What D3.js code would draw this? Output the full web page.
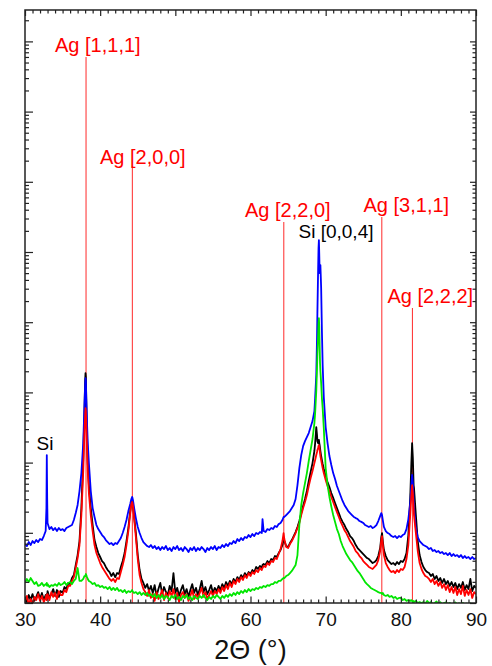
<!DOCTYPE html>
<html>
<head>
<meta charset="utf-8">
<script src="https://cdn.jsdelivr.net/npm/d3@7"></script>
<style>
  html, body { margin: 0; padding: 0; background: #fff; }
  svg { display: block; font-family: "Liberation Sans", Arial, sans-serif; }
</style>
</head>
<body>
<svg id="chart" width="492" height="666"></svg>
<script>
// Scattering angle 2θ (degrees), shared by all four scans
const twoTheta = [
  30, 30.25, 30.5, 30.75,
  31, 31.25, 31.5, 31.75,
  32, 32.25, 32.5, 32.75, 32.85, 32.9, 32.95,
  33, 33.25, 33.5, 33.75,
  34, 34.25, 34.5, 34.75,
  35, 35.25, 35.5, 35.75,
  36, 36.25, 36.5, 36.75,
  37, 37.25, 37.5, 37.75, 37.9,
  38, 38.05, 38.1, 38.15, 38.25, 38.35, 38.5, 38.75,
  39, 39.25, 39.5, 39.75,
  40, 40.25, 40.5, 40.75,
  41, 41.25, 41.5, 41.75,
  42, 42.25, 42.5, 42.75,
  43, 43.25, 43.5, 43.75,
  44, 44.15, 44.25, 44.3, 44.4, 44.5, 44.75,
  45, 45.25, 45.5, 45.75,
  46, 46.25, 46.5, 46.75,
  47, 47.25, 47.5, 47.75,
  48, 48.25, 48.5, 48.75,
  49, 49.25, 49.5, 49.75,
  50, 50.25, 50.5, 50.75,
  51, 51.25, 51.5, 51.75,
  52, 52.25, 52.5, 52.75,
  53, 53.25, 53.5, 53.75,
  54, 54.25, 54.5, 54.75,
  55, 55.25, 55.5, 55.75,
  56, 56.25, 56.5, 56.75,
  57, 57.25, 57.5, 57.75,
  58, 58.25, 58.5, 58.75,
  59, 59.25, 59.5, 59.75,
  60, 60.25, 60.5, 60.75,
  61, 61.25, 61.5, 61.6, 61.75,
  62, 62.25, 62.5, 62.75,
  63, 63.25, 63.5, 63.75,
  64, 64.25, 64.4, 64.5, 64.75,
  65, 65.25, 65.5, 65.75,
  66, 66.25, 66.5, 66.75,
  67, 67.25, 67.5, 67.75,
  68, 68.25, 68.5, 68.6, 68.75, 68.85, 68.9,
  69, 69.05, 69.1, 69.15, 69.2, 69.25, 69.3, 69.4, 69.5, 69.6, 69.75,
  70, 70.25, 70.5, 70.75,
  71, 71.25, 71.5, 71.75,
  72, 72.25, 72.5, 72.75,
  73, 73.25, 73.5, 73.75,
  74, 74.25, 74.5, 74.75,
  75, 75.25, 75.5, 75.75,
  76, 76.25, 76.5, 76.75,
  77, 77.25, 77.4, 77.5, 77.6, 77.75,
  78, 78.25, 78.5, 78.75,
  79, 79.25, 79.5, 79.75,
  80, 80.25, 80.5, 80.75,
  81, 81.25, 81.4, 81.5, 81.6, 81.7, 81.75,
  82, 82.25, 82.5, 82.75,
  83, 83.25, 83.5, 83.75,
  84, 84.25, 84.5, 84.75,
  85, 85.25, 85.5, 85.75,
  86, 86.25, 86.5, 86.75,
  87, 87.25, 87.5, 87.75,
  88, 88.25, 88.5, 88.75,
  89, 89.25, 89.5, 89.75,
  90
];

// Intensity (counts) of the four scans
const countsBlue = [
  69.2, 64.8, 73.8, 66.9,
  76.3, 71.5, 78.8, 73.8,
  81.5, 78.8, 89.9, 105.9, 225, 1280, 314,
  138, 113, 121, 109,
  117, 106, 117, 109,
  113, 106, 117, 121,
  125, 129, 152, 191,
  249, 393, 709, 1896, 5970,
  12900, 15990, 14600, 8300, 3653, 1896, 984, 393,
  225, 168, 129, 113,
  102.5, 92.9, 87.0, 78.8,
  73.8, 69.2, 71.5, 66.9,
  71.5, 69.2, 76.3, 84.2,
  99.2, 121, 152, 204,
  257, 303, 324, 314, 275, 232, 162,
  121, 99.2, 84.2, 73.8,
  69.2, 64.8, 62.7, 66.9,
  60.7, 64.8, 58.7, 62.7,
  56.8, 62.7, 58.7, 64.8,
  56.8, 60.7, 55.0, 62.7,
  58.7, 64.8, 56.8, 60.7,
  55.0, 62.7, 58.7, 53.2,
  60.7, 56.8, 62.7, 55.0,
  60.7, 56.8, 62.7, 58.7,
  53.2, 60.7, 56.8, 62.7,
  58.7, 64.8, 56.8, 62.7,
  60.7, 66.9, 62.7, 69.2,
  64.8, 71.5, 69.2, 76.3,
  71.5, 81.5, 76.3, 84.2,
  78.8, 87.0, 84.2, 92.9,
  87.0, 96.0, 89.9, 99.2,
  96.0, 102.5, 99.2, 157, 105.9,
  102.5, 113, 109.4, 117,
  113, 125, 121, 133,
  138, 152, 168, 168, 179,
  191, 204, 225, 249,
  303, 479, 835, 1280,
  1720, 2024, 2307, 2632,
  3204, 3900, 5413, 8300, 17630, 59600, 134700,
  590000, 1138000, 1480000, 906000, 501000, 536000, 650000, 306000, 75000, 24600, 8600,
  3204, 1896, 1240, 924,
  709, 584, 464, 394,
  334, 284, 249, 225,
  204, 191, 179, 168,
  162, 157, 147, 143,
  138, 129, 125, 121,
  125, 117, 121, 129,
  147, 173, 191, 179, 152, 121,
  105.9, 99.2, 96.0, 89.9,
  87.0, 89.9, 84.2, 89.9,
  87.0, 92.9, 96.0, 113,
  157, 265, 479, 666, 511, 303, 232,
  117, 87.0, 76.3, 71.5,
  66.9, 64.8, 62.7, 58.7,
  60.7, 55.0, 56.8, 53.2,
  55.0, 51.5, 53.2, 49.8,
  51.5, 48.2, 51.5, 46.7,
  49.8, 46.7, 48.2, 45.2,
  48.2, 43.7, 46.7, 43.7,
  45.2, 42.3, 45.2, 42.3,
  43.7
];

const countsBlack = [
  11.8, 10.3, 13.0, 11.0,
  13.4, 10.7, 12.2, 14.3,
  11.4, 13.9, 11.0, 13.0, 11.8, 13.4, 11.4,
  14.8, 11.8, 13.4, 15.8,
  12.6, 15.3, 12.2, 14.8,
  13.9, 16.9, 15.8, 19.3,
  18.6, 22.7, 25.0, 34.8,
  48.2, 76.3, 225, 1160, 5071,
  14530, 18830, 16570, 8300, 2470, 984, 479, 225,
  129, 78.8, 62.7, 51.5,
  45.2, 39.6, 37.1, 32.6,
  29.5, 27.6, 24.2, 26.7,
  23.4, 26.7, 25.9, 32.6,
  39.6, 51.5, 76.3, 117,
  204, 275, 303, 284, 237, 179, 99.2,
  48.2, 29.5, 22.0, 19.3,
  16.4, 18.6, 14.8, 17.5,
  13.9, 18.0, 12.6, 15.8,
  19.3, 13.4, 16.9, 14.3,
  13.0, 17.5, 14.8, 26.7,
  13.9, 16.4, 12.6, 15.3,
  18.0, 13.4, 15.8, 12.2,
  15.3, 18.6, 13.9, 16.4,
  13.0, 15.8, 20.6, 14.3,
  16.9, 13.4, 15.3, 18.0,
  13.9, 16.4, 14.8, 17.5,
  15.3, 18.6, 16.4, 19.9,
  17.5, 20.6, 18.6, 22.0,
  19.9, 23.4, 21.3, 25.0,
  22.7, 26.7, 24.2, 27.6,
  25.9, 29.5, 27.6, 32.6,
  30.5, 33.7, 31.5, 34.8, 35.9,
  34.8, 39.6, 37.1, 42.3,
  40.9, 46.7, 45.2, 51.5,
  56.8, 66.9, 84.2, 76.3, 64.8,
  62.7, 71.5, 78.8, 89.9,
  102.5, 121, 147, 191,
  241, 303, 394, 547,
  735, 984, 1463, 1896, 3204, 2470, 2024,
  1896, 1966, 2100, 1896, 1776, 1610, 1463, 1240, 1087, 955, 811,
  644, 529, 448, 368,
  314, 265, 225, 191,
  162, 143, 129, 113,
  102.5, 89.9, 84.2, 76.3,
  66.9, 60.7, 56.8, 53.2,
  49.8, 46.7, 43.7, 42.3,
  39.6, 37.1, 38.3, 40.9,
  46.7, 60.7, 87.0, 99.2, 76.3, 56.8,
  46.7, 40.9, 38.3, 35.9,
  37.1, 34.8, 38.3, 35.9,
  39.6, 38.3, 42.3, 51.5,
  92.9, 314, 984, 1896, 1160, 479, 436,
  179, 76.3, 48.2, 38.3,
  32.6, 29.5, 27.6, 26.7,
  24.2, 25.9, 22.0, 24.2,
  20.6, 22.7, 19.3, 22.0,
  18.6, 20.6, 17.5, 19.9,
  16.9, 19.3, 15.8, 18.6,
  16.4, 19.9, 15.3, 18.0,
  15.8, 22.0, 14.8, 17.5,
  16.4
];

const countsRed = [
  10.7, 12.6, 9.4, 11.4,
  9.7, 12.2, 11.0, 13.4,
  10.7, 12.6, 10.3, 11.8, 13.0, 11.0, 12.2,
  13.4, 11.0, 14.3, 12.2,
  13.9, 11.4, 14.8, 13.0,
  13.0, 15.3, 14.3, 17.5,
  17.5, 20.6, 23.4, 31.5,
  43.7, 66.9, 179, 759, 2632,
  4760, 5970, 5413, 3653, 1610, 759, 368, 179,
  105.9, 66.9, 51.5, 43.7,
  37.1, 32.6, 29.5, 26.7,
  24.2, 22.0, 20.6, 22.0,
  19.9, 22.7, 22.0, 27.6,
  34.8, 45.2, 66.9, 105.9,
  191, 257, 275, 265, 225, 168, 87.0,
  42.3, 25.0, 19.3, 15.8,
  14.3, 12.6, 15.3, 11.8,
  13.4, 10.7, 14.3, 11.4,
  13.0, 15.3, 11.0, 13.9,
  11.8, 14.8, 12.6, 15.8,
  11.4, 13.9, 10.3, 13.0,
  14.3, 11.8, 13.4, 10.7,
  12.6, 15.3, 11.4, 13.4,
  11.8, 13.9, 16.4, 12.2,
  14.3, 11.4, 13.0, 14.8,
  12.6, 14.8, 13.4, 15.8,
  13.9, 16.9, 14.8, 18.0,
  15.8, 19.3, 16.9, 20.6,
  18.6, 22.0, 19.9, 23.4,
  21.3, 25.0, 22.7, 26.7,
  24.2, 27.6, 25.9, 29.5,
  27.6, 31.5, 29.5, 31.5, 33.7,
  32.6, 37.1, 34.8, 39.6,
  38.3, 43.7, 42.3, 49.8,
  58.7, 76.3, 99.2, 81.5, 62.7,
  60.7, 69.2, 76.3, 87.0,
  99.2, 117, 138, 179,
  225, 275, 346, 464,
  602, 759, 984, 1087, 1280, 1416, 1512,
  1610, 1723, 1776, 1668, 1512, 1366, 1240, 1087, 955, 835, 709,
  565, 464, 394, 324,
  275, 232, 197, 168,
  143, 125, 109, 99.2,
  87.0, 76.3, 69.2, 62.7,
  55.0, 51.5, 46.7, 43.7,
  39.6, 37.1, 34.8, 32.6,
  31.5, 30.5, 32.6, 34.8,
  40.9, 55.0, 78.8, 89.9, 69.2, 48.2,
  37.1, 32.6, 29.5, 27.6,
  28.6, 26.7, 29.5, 27.6,
  30.5, 29.5, 32.6, 42.3,
  66.9, 179, 346, 479, 368, 232, 179,
  99.2, 55.0, 37.1, 30.5,
  26.7, 24.2, 23.4, 22.0,
  19.9, 22.0, 18.6, 20.6,
  17.5, 19.9, 16.4, 18.6,
  15.3, 18.0, 14.3, 16.9,
  13.9, 16.9, 13.0, 15.8,
  13.4, 17.5, 12.6, 15.3,
  13.0, 15.8, 11.8, 14.3,
  13.4
];

const countsGreen = [
  19.3, 22.0, 19.9, 22.7,
  20.6, 18.6, 19.9, 17.5,
  18.0, 19.3, 17.5, 18.6, 18.0, 19.3, 17.5,
  18.6, 16.9, 18.0, 17.5,
  18.6, 17.5, 19.3, 18.0,
  18.6, 19.9, 18.0, 19.3,
  19.9, 18.6, 20.6, 22.0,
  31.5, 20.6, 20.6, 22.0, 24.2,
  24.2, 25.0, 25.9, 25.0, 23.4, 22.0, 20.6, 19.9,
  18.6, 19.3, 17.5, 18.0,
  16.9, 17.5, 16.4, 16.9,
  15.8, 16.9, 15.3, 16.4,
  15.3, 16.4, 14.8, 15.3,
  14.3, 15.3, 13.9, 14.8,
  14.3, 14.8, 15.3, 14.8, 14.3, 13.9, 14.3,
  13.4, 14.3, 13.0, 13.9,
  13.0, 13.9, 12.6, 13.4,
  12.2, 13.4, 11.8, 13.0,
  11.8, 13.0, 11.4, 12.6,
  12.2, 11.0, 12.6, 11.8,
  13.0, 11.4, 12.2, 11.0,
  12.6, 11.8, 13.0, 11.4,
  12.2, 11.0, 12.6, 11.8,
  11.4, 12.6, 11.8, 13.0,
  11.8, 11.0, 12.2, 11.4,
  12.6, 11.8, 13.0, 12.2,
  11.4, 12.6, 11.8, 13.0,
  12.2, 13.4, 12.6, 13.9,
  13.0, 14.3, 13.4, 14.8,
  13.9, 15.3, 14.3, 15.8,
  14.8, 15.8, 15.3, 16.4,
  15.8, 16.9, 16.4, 16.9, 17.5,
  16.9, 18.0, 17.5, 18.6,
  18.6, 19.9, 19.3, 20.6,
  20.6, 22.0, 22.7, 22.7, 24.2,
  25.0, 26.7, 28.6, 31.5,
  34.8, 48.2, 129, 249,
  368, 511, 709, 1054,
  1512, 2168, 3653, 5071, 10470, 22200, 34100,
  65700, 97000, 114000, 85400, 47300, 26200, 20200, 13560, 8300, 5970, 3100,
  835, 479, 324, 237,
  179, 143, 113, 96.0,
  76.3, 64.8, 56.8, 49.8,
  45.2, 40.9, 38.3, 34.8,
  31.5, 28.6, 26.7, 24.2,
  22.0, 19.9, 18.6, 17.5,
  16.4, 15.8, 15.3, 14.8,
  14.3, 13.9, 13.9, 13.4, 13.9, 13.0,
  12.6, 13.0, 12.2, 12.6,
  11.8, 12.2, 11.4, 11.8,
  11.8, 11.0, 11.4, 10.7,
  11.0, 10.7, 11.0, 10.7, 10.3, 10.7, 10.3,
  10.7, 10.0, 10.3, 10.0,
  10.3, 9.8, 10.7, 10.0,
  10.3, 9.7, 10.0, 10.5,
  9.8, 10.3, 9.6, 10.0,
  10.2, 9.7, 10.0, 9.5,
  9.8, 10.2, 9.5, 9.9,
  9.6, 10.0, 9.4, 9.8,
  9.5, 9.9, 9.3, 9.7,
  9.6
];

// Silver reflections (2θ, degrees) and their Miller-index labels
const agPeaks = [38.12, 44.28, 64.43, 77.47, 81.54];
const agLabels = ["Ag [1,1,1]", "Ag [2,0,0]", "Ag [2,2,0]", "Ag [3,1,1]", "Ag [2,2,2]"];

// Silicon substrate reflections
const siLabels = ["Si", "Si [0,0,4]"];

// Axis ranges
const xDomain = [30, 90];
const xMajorTicks = [30, 40, 50, 60, 70, 80, 90];
const yDomain = [10, 2.8e9];

const svg = d3.select("#chart");
const W = 492, H = 666;
const margin = { left: 25, right: 16, top: 10, bottom: 63 };
const x0 = margin.left, x1 = W - margin.right;
const y0 = H - margin.bottom, y1 = margin.top;

const x = d3.scaleLinear().domain(xDomain).range([x0, x1]);
const y = d3.scaleLog().domain(yDomain).range([y0, y1]);

svg.append("rect").attr("width", W).attr("height", H).attr("fill", "#fff");

svg.append("defs").append("clipPath").attr("id", "plot-clip")
  .append("rect").attr("x", x0).attr("y", y1).attr("width", x1 - x0).attr("height", y0 - y1);

// Reference lines for the silver reflections
const lineTops = [57, 166, 222, 217, 308];
svg.append("g").selectAll("line").data(agPeaks).join("line")
  .attr("x1", d => x(d)).attr("x2", d => x(d))
  .attr("y1", (d, i) => lineTops[i]).attr("y2", y0)
  .attr("stroke", "#ff2a2a").attr("stroke-width", 1);

// Diffraction scans
const scans = [
  { values: countsBlack, color: "#000000" },
  { values: countsBlue, color: "#0000ff" },
  { values: countsRed, color: "#ff0000" },
  { values: countsGreen, color: "#00e600" }
];
const line = d3.line()
  .x((d, i) => x(twoTheta[i]))
  .y(d => y(d));
const curves = svg.append("g").attr("clip-path", "url(#plot-clip)");
scans.forEach(s => {
  curves.append("path")
    .attr("d", line(s.values))
    .attr("fill", "none")
    .attr("stroke", s.color)
    .attr("stroke-width", 1.8)
    .attr("stroke-linejoin", "round");
});

// Axes: ticks point inward on all four sides
const xMinor = d3.range(30, 91, 1).filter(v => v % 10 !== 0);
const yAll = y.ticks();
const yMajor = yAll.filter(v => Math.abs(Math.log10(v) - Math.round(Math.log10(v))) < 1e-9);
const yMinor = yAll.filter(v => !yMajor.includes(v));

function styleAxis(g) {
  g.select(".domain").remove();
  g.selectAll(".tick line").attr("stroke", "#222").attr("stroke-width", 1.2);
}

svg.append("g").attr("transform", `translate(0,${y0})`)
  .call(d3.axisBottom(x).tickValues(xMajorTicks).tickSizeInner(-6.5).tickSizeOuter(0)
    .tickPadding(10).tickFormat(d3.format("d")))
  .call(styleAxis)
  .call(g => g.selectAll("text").attr("font-size", 19).attr("fill", "#111")
    .attr("font-family", "Liberation Sans, Arial, sans-serif"));
svg.append("g").attr("transform", `translate(0,${y0})`)
  .call(d3.axisBottom(x).tickValues(xMinor).tickSizeInner(-3.5).tickSizeOuter(0).tickFormat(""))
  .call(styleAxis);
svg.append("g").attr("transform", `translate(0,${y1})`)
  .call(d3.axisTop(x).tickValues(xMajorTicks).tickSizeInner(-6).tickSizeOuter(0).tickFormat(""))
  .call(styleAxis);
svg.append("g").attr("transform", `translate(0,${y1})`)
  .call(d3.axisTop(x).tickValues(xMinor).tickSizeInner(-3.5).tickSizeOuter(0).tickFormat(""))
  .call(styleAxis);

svg.append("g").attr("transform", `translate(${x0},0)`)
  .call(d3.axisLeft(y).tickValues(yMajor).tickSizeInner(-8).tickSizeOuter(0).tickFormat(""))
  .call(styleAxis);
svg.append("g").attr("transform", `translate(${x0},0)`)
  .call(d3.axisLeft(y).tickValues(yMinor).tickSizeInner(-4).tickSizeOuter(0).tickFormat(""))
  .call(styleAxis);
svg.append("g").attr("transform", `translate(${x1},0)`)
  .call(d3.axisRight(y).tickValues(yMajor).tickSizeInner(-6).tickSizeOuter(0).tickFormat(""))
  .call(styleAxis);
svg.append("g").attr("transform", `translate(${x1},0)`)
  .call(d3.axisRight(y).tickValues(yMinor).tickSizeInner(-3.5).tickSizeOuter(0).tickFormat(""))
  .call(styleAxis);

// Plot frame
svg.append("rect")
  .attr("x", x0).attr("y", y1).attr("width", x1 - x0).attr("height", y0 - y1)
  .attr("fill", "none").attr("stroke", "#222").attr("stroke-width", 1.5);

// Peak labels
const agLabelPos = [[55, 52], [100, 163.5], [245, 217], [363.5, 212], [387.5, 303]];
svg.append("g").selectAll("text").data(agLabels).join("text")
  .attr("x", (d, i) => agLabelPos[i][0])
  .attr("y", (d, i) => agLabelPos[i][1])
  .attr("fill", "#ff0000")
  .attr("font-size", 20)
  .text(d => d);

const siLabelPos = [[36.5, 450], [298.5, 237.5]];
svg.append("g").selectAll("text").data(siLabels).join("text")
  .attr("x", (d, i) => siLabelPos[i][0])
  .attr("y", (d, i) => siLabelPos[i][1])
  .attr("fill", "#000")
  .attr("font-size", 19)
  .text(d => d);

// Axis title
svg.append("text")
  .attr("x", (x0 + x1) / 2).attr("y", 659)
  .attr("text-anchor", "middle")
  .attr("font-size", 27)
  .attr("fill", "#111")
  .text("2Θ (°)");
</script>
</body>
</html>
